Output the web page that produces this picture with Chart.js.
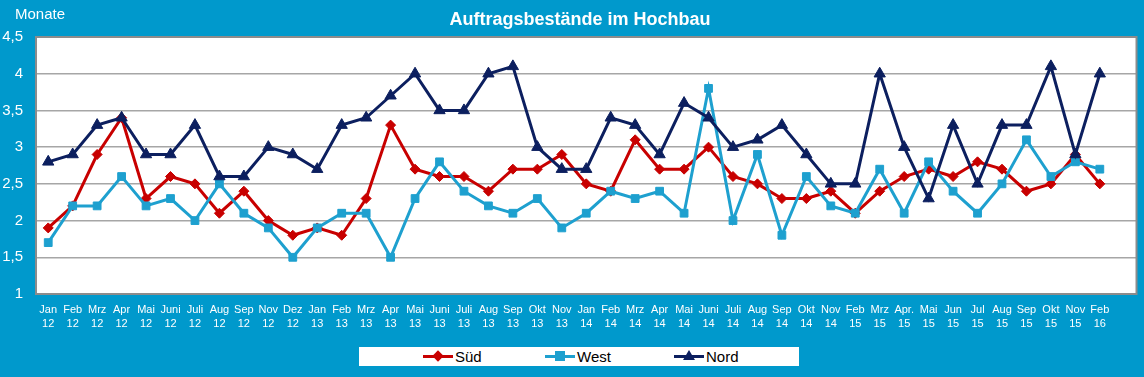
<!DOCTYPE html>
<html>
<head>
<meta charset="utf-8">
<script src="https://cdn.jsdelivr.net/npm/chart.js@4/dist/chart.umd.min.js"></script>
<style>
  html, body { margin: 0; padding: 0; }
  body { width: 1144px; height: 377px; background: #0099cc; font-family: Arial, "Liberation Sans", sans-serif; overflow: hidden; }
  #wrap { position: relative; width: 1144px; height: 377px; }
  #title { position: absolute; left: 0; width: 1160px; top: 9px; text-align: center; color: #fff; font-weight: bold; font-size: 18px; }
  #unit { position: absolute; left: 15px; top: 5px; color: #fff; font-size: 15px; }
  #legend { position: absolute; left: 359px; top: 347px; width: 440px; height: 19px; background: #fff; font-size: 15px; color: #000; }
  .item { position: absolute; top: 0; height: 19px; line-height: 19px; }
  .item .ln { position: absolute; top: 8px; left: 0; width: 30px; height: 3px; }
  .item .mk { position: absolute; }
  .item .tx { position: absolute; left: 32px; top: 0; }
</style>
</head>
<body>
<div id="wrap">
  <canvas id="chart" width="1144" height="377"></canvas>
  <div id="title">Auftragsbestände im Hochbau</div>
  <div id="unit">Monate</div>
  <div id="legend"></div>
</div>
<script>
// Monate Jan 12 .. Feb 16 (Lücken wie im Original)
const categories = ['Jan 12','Feb 12','Mrz 12','Apr 12','Mai 12','Juni 12','Juli 12','Aug 12','Sep 12','Nov 12','Dez 12',
  'Jan 13','Feb 13','Mrz 13','Apr 13','Mai 13','Juni 13','Juli 13','Aug 13','Sep 13','Okt 13','Nov 13',
  'Jan 14','Feb 14','Mrz 14','Apr 14','Mai 14','Juni 14','Juli 14','Aug 14','Sep 14','Okt 14','Nov 14',
  'Feb 15','Mrz 15','Apr. 15','Mai 15','Jun 15','Jul 15','Aug 15','Sep 15','Okt 15','Nov 15','Feb 16'];

const sued = [1.9,2.2,2.9,3.4,2.3,2.6,2.5,2.1,2.4,2.0,1.8,
  1.9,1.8,2.3,3.3,2.7,2.6,2.6,2.4,2.7,2.7,2.9,
  2.5,2.4,3.1,2.7,2.7,3.0,2.6,2.5,2.3,2.3,2.4,
  2.1,2.4,2.6,2.7,2.6,2.8,2.7,2.4,2.5,2.9,2.5];

const west = [1.7,2.2,2.2,2.6,2.2,2.3,2.0,2.5,2.1,1.9,1.5,
  1.9,2.1,2.1,1.5,2.3,2.8,2.4,2.2,2.1,2.3,1.9,
  2.1,2.4,2.3,2.4,2.1,3.8,2.0,2.9,1.8,2.6,2.2,
  2.1,2.7,2.1,2.8,2.4,2.1,2.5,3.1,2.6,2.8,2.7];

const nord = [2.8,2.9,3.3,3.4,2.9,2.9,3.3,2.6,2.6,3.0,2.9,
  2.7,3.3,3.4,3.7,4.0,3.5,3.5,4.0,4.1,3.0,2.7,
  2.7,3.4,3.3,2.9,3.6,3.4,3.0,3.1,3.3,2.9,2.5,
  2.5,4.0,3.0,2.3,3.3,2.5,3.3,3.3,4.1,2.9,4.0];

const yTicks = [1, 1.5, 2, 2.5, 3, 3.5, 4, 4.5];

const colSued = '#c80000';
const colWest = '#1ea0cf';
const colNord = '#0c1f5f';

// leere Kategorie am Ende, wie im Original (Platz rechts)
const labels = categories.map(c => c.split(' ')).concat(['']);

const plotBg = {
    id: 'plotBg',
    beforeDraw(chart) {
        const a = chart.chartArea;
        const ctx = chart.ctx;
        ctx.save();
        ctx.fillStyle = '#fff';
        ctx.fillRect(a.left, a.top, a.right - a.left, a.bottom - a.top);
        ctx.restore();
    },
    beforeDatasetsDraw(chart) {
        const a = chart.chartArea;
        const ctx = chart.ctx;
        ctx.save();
        ctx.strokeStyle = '#8c8c8c';
        ctx.lineWidth = 2;
        ctx.strokeRect(a.left, a.top, a.right - a.left, a.bottom - a.top);
        ctx.restore();
    }
};

const ctx = document.getElementById('chart').getContext('2d');

const chart = new Chart(ctx, {
    type: 'line',
    plugins: [plotBg],
    data: {
        labels: labels,
        datasets: [{
            label: 'Süd',
            data: sued,
            borderColor: colSued,
            backgroundColor: colSued,
            pointStyle: 'rectRot',
            pointRadius: 5,
            order: 3
        }, {
            label: 'West',
            data: west,
            borderColor: colWest,
            backgroundColor: colWest,
            pointStyle: 'rect',
            pointRadius: 5.5,
            order: 2
        }, {
            label: 'Nord',
            data: nord,
            borderColor: colNord,
            backgroundColor: colNord,
            pointStyle: 'triangle',
            pointRadius: 6.5,
            order: 1
        }]
    },
    options: {
        responsive: false,
        animation: false,
        devicePixelRatio: 1,
        layout: {
            padding: { top: 37, left: 0, right: 6, bottom: 0 }
        },
        elements: {
            line: { borderWidth: 3, tension: 0 },
            point: { borderWidth: 1, hoverRadius: 6 }
        },
        scales: {
            x: {
                offset: true,
                grid: { display: false },
                border: { display: false },
                ticks: {
                    color: '#fff',
                    autoSkip: false,
                    maxRotation: 0,
                    padding: 1,
                    font: { size: 11, family: 'Arial, "Liberation Sans"', lineHeight: 1.25 }
                },
                afterFit: s => { s.height = 83; }
            },
            y: {
                min: 1,
                max: 4.5,
                afterBuildTicks: s => { s.ticks = yTicks.map(v => ({ value: v })); },
                grid: { color: '#a6a6a6', lineWidth: 1.5, drawTicks: false },
                border: { display: false },
                ticks: {
                    color: '#fff',
                    padding: 13,
                    font: { size: 15, family: 'Arial, "Liberation Sans"' },
                    callback: v => String(v).replace('.', ',')
                },
                afterFit: s => { s.width = 36; }
            }
        },
        plugins: {
            legend: { display: false },
            title: { display: false },
            tooltip: { enabled: false }
        }
    }
});

// Legende als HTML
const legendItems = [
    { name: 'Süd', color: colSued, x: 64, shape: 'diamond' },
    { name: 'West', color: colWest, x: 186, shape: 'square' },
    { name: 'Nord', color: colNord, x: 315, shape: 'triangle' }
];
const legend = document.getElementById('legend');
legendItems.forEach(it => {
    const d = document.createElement('div');
    d.className = 'item';
    d.style.left = it.x + 'px';
    let mk = '';
    if (it.shape === 'diamond') {
        mk = `<span class="mk" style="left:11px;top:5px;width:8px;height:8px;background:${it.color};transform:rotate(45deg)"></span>`;
    } else if (it.shape === 'square') {
        mk = `<span class="mk" style="left:10px;top:4px;width:10px;height:10px;background:${it.color}"></span>`;
    } else {
        mk = `<span class="mk" style="left:9px;top:3px;width:0;height:0;border-left:6px solid transparent;border-right:6px solid transparent;border-bottom:10px solid ${it.color}"></span>`;
    }
    d.innerHTML = `<span class="ln" style="background:${it.color}"></span>${mk}<span class="tx">${it.name}</span>`;
    legend.appendChild(d);
});
</script>
</body>
</html>
